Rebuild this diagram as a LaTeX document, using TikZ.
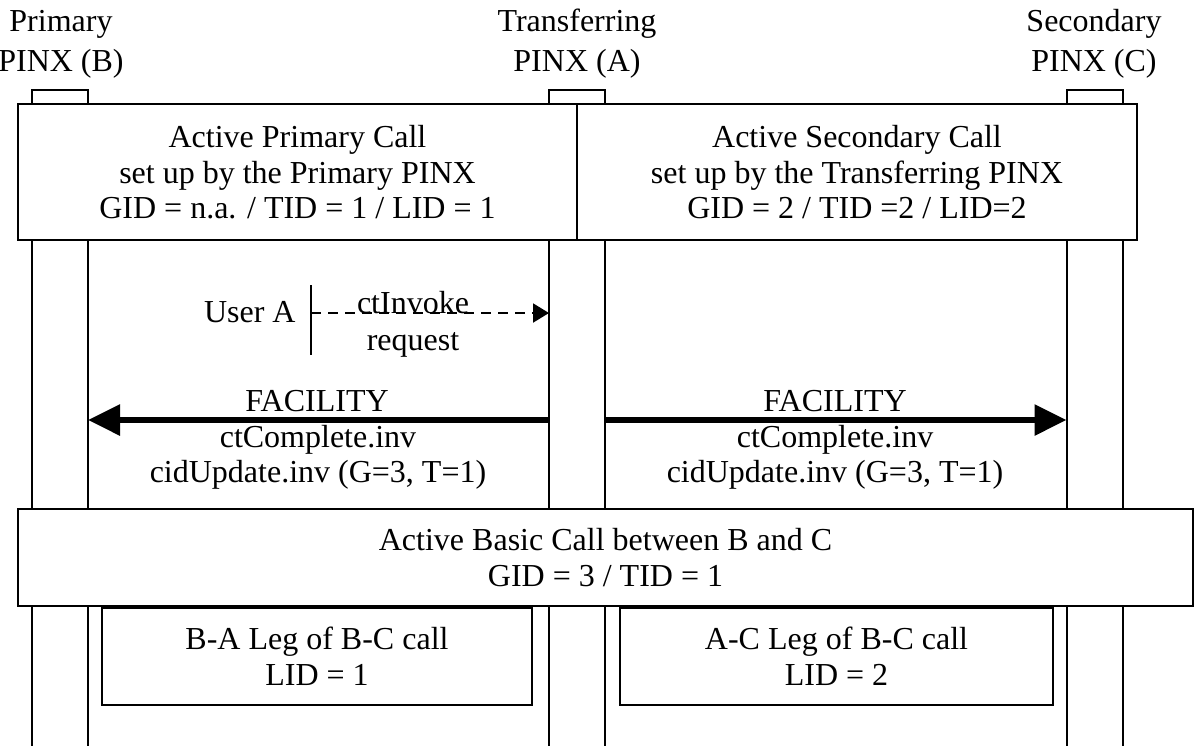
\documentclass[tikz,border=0pt]{standalone}
\usepackage{fontspec}
\setmainfont{Liberation Serif}
\usetikzlibrary{arrows.meta}

\begin{document}
\begin{tikzpicture}[x=0.5pt,y=-0.5pt,
  every node/.style={font=\fontsize{16}{17.5}\selectfont, inner sep=0pt},
  headtext/.style={align=center, font=\fontsize{16}{20}\selectfont},
  callbox/.style={draw, line width=1pt, fill=white, align=center, outer sep=0pt,
    font=\fontsize{16}{17.8}\selectfont, text depth=0pt},
  headbox/.style={draw, line width=1pt, fill=white, outer sep=0pt, minimum width=28pt, minimum height=7pt},
  lifeline/.style={line width=1pt},
  msg/.style={line width=3pt, -{Triangle[length=16pt,width=15pt]}},
  req/.style={line width=1pt, dash pattern=on 5pt off 3.5pt, -{Triangle[length=8pt,width=9.5pt]}}]
\useasboundingbox (0,0) rectangle (1194,746);
\coordinate (bot) at (0,746);

% the three PINXs
\node[headtext] (pinxB) at (61,44) {Primary\\PINX (B)};
\node[headtext] (pinxA) at (577,44) {Transferring\\PINX (A)};
\node[headtext] (pinxC) at (1094,44) {Secondary\\PINX (C)};
\node[headbox] (headB) at (60,97) {};
\node[headbox] (headA) at (577,97) {};
\node[headbox] (headC) at (1094.5,97) {};

% lifelines
\foreach \h in {headB,headA,headC}{
  \draw[lifeline] (\h.south west) -- (\h.south west |- bot);
  \draw[lifeline] (\h.south east) -- (\h.south east |- bot);
}

% calls
\node[callbox, minimum width=279.5pt, minimum height=68pt] (primcall) at (297.5,172)
  {Active Primary Call\\set up by the Primary PINX\\GID = n.a. / TID = 1 / LID = 1};
\node[callbox, minimum width=280pt, minimum height=68pt] (seccall) at (857,172)
  {Active Secondary Call\\set up by the Transferring PINX\\GID = 2 / TID =2 / LID=2};
\node[callbox, minimum width=587.5pt, minimum height=48.5pt] (basiccall) at (605.5,557.5)
  {Active Basic Call between B and C\\GID = 3 / TID = 1};
\node[callbox, minimum width=215pt, minimum height=48.5pt] (legBA) at (317,656.5)
  {B-A Leg of B-C call\\LID = 1};
\node[callbox, minimum width=216.5pt, minimum height=48.5pt] (legAC) at (836.5,656.5)
  {A-C Leg of B-C call\\LID = 2};

% user request
\coordinate (userTop) at (311,285);
\coordinate (userBot) at (311,355);
\draw[lifeline] (userTop) -- (userBot);
\node[anchor=east] (userA) at (296,312) {User A};
\coordinate (reqStart) at (311,313);
\draw[req] (reqStart) -- (reqStart -| headA.south west);
\node[anchor=base] (ctInvoke) at (413,313) {ctInvoke};
\node[anchor=base] (request) at (413,350) {request};

% FACILITY messages
\coordinate (facA) at (549,420);
\coordinate (facA2) at (605,420);
\draw[msg] (facA) -- (facA -| headB.south east);
\draw[msg] (facA2) -- (facA2 -| headC.south west);
\node[anchor=base] (facL) at (317,411) {FACILITY};
\node[anchor=base] (ctCompL) at (318,447) {ctComplete.inv};
\node[anchor=base] (cidUpdL) at (318,482) {cidUpdate.inv (G=3, T=1)};
\node[anchor=base] (facR) at (835,411) {FACILITY};
\node[anchor=base] (ctCompR) at (835,447) {ctComplete.inv};
\node[anchor=base] (cidUpdR) at (835,482) {cidUpdate.inv (G=3, T=1)};
\end{tikzpicture}
\end{document}
